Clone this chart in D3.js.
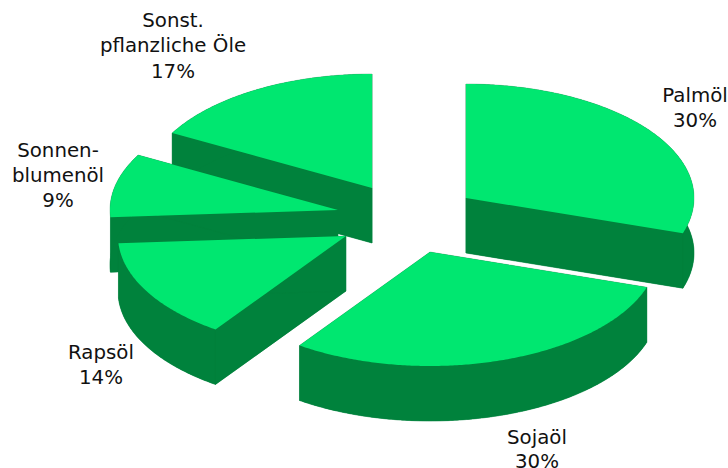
<!DOCTYPE html>
<html><head><meta charset="utf-8">
<script src="https://cdn.jsdelivr.net/npm/d3@7"></script>
<style>html,body{margin:0;background:#fff}svg{display:block}text{font-family:"DejaVu Sans",sans-serif;font-size:19.8px;fill:#111;text-anchor:middle}</style>
</head><body><svg id="c" width="728" height="468"></svg>
<script>
const categories = ["Palmöl","Sojaöl","Rapsöl","Sonnenblumenöl","Sonst. pflanzliche Öle"];
const values = [30,29.7,14.3,9,17];
const labelLines = [["Palmöl","30%"],["Sojaöl","30%"],["Rapsöl","14%"],["Sonnen-","blumenöl","9%"],["Sonst.","pflanzliche Öle","17%"]];
const apexes = [[466,198],[430,252],[346,236],[338,210],[372,188]];
const labelPos = [[695,102],[537,444],[101,359],[58,157],[173,27]];
const lineSteps = [[25],[24],[25],[25,25],[25,26]];
const drawOrder = [4,3,2,0,1];
const topColor = "#00E770", wallColor = "#00823C";
const rx = 228, ry = 114, depth = 55;

const svg = d3.select("#c");
const arcs = d3.pie().sort(null).value(d=>d)(values);
const px = d3.scaleLinear().domain([-1,1]).range([-rx,rx]);
const py = d3.scaleLinear().domain([-1,1]).range([-ry,ry]);
const line = d3.line();
const pt = (c,t,dy=0)=>[c[0]+px(Math.sin(t)), c[1]-py(Math.cos(t))+dy];

drawOrder.forEach(i=>{
  const a = arcs[i], c = apexes[i];
  const n = Math.ceil((a.endAngle-a.startAngle)/0.01);
  const ts = d3.range(n+1).map(k=>a.startAngle+(a.endAngle-a.startAngle)*k/n);
  const rim = ts.map(t=>pt(c,t)), rimLow = ts.map(t=>pt(c,t,depth));
  const low = [c[0],c[1]+depth];
  const g = svg.append("g").attr("class","slice");
  const walls = [
    [low,...rimLow],
    [c,rim[0],rimLow[0],low],
    [c,rim[n],rimLow[n],low],
    [...rim,...rimLow.slice().reverse()]
  ];
  g.selectAll("path.wall").data(walls).join("path").attr("class","wall")
    .attr("d",d=>line(d)+"Z").attr("fill",wallColor).attr("stroke",wallColor).attr("stroke-width",0.3);
  g.append("path").attr("d",line([c,...rim])+"Z").attr("fill",topColor);
});

labelLines.forEach((ls,i)=>{
  const t = svg.append("text").attr("x",labelPos[i][0]).attr("y",labelPos[i][1]);
  const steps = lineSteps[i];
  ls.forEach((s,k)=>t.append("tspan").attr("x",labelPos[i][0]).attr("dy",k?steps[k-1]:0).text(s));
});
</script></body></html>
